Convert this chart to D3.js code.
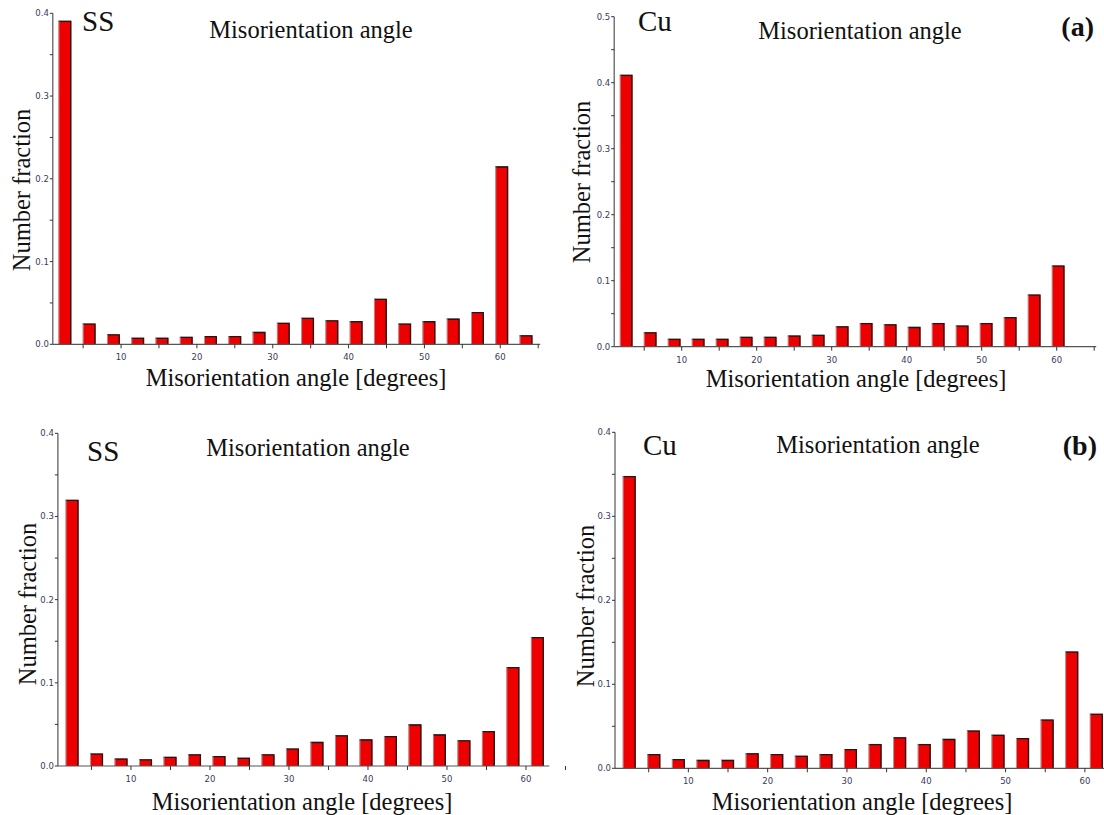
<!DOCTYPE html>
<html><head><meta charset="utf-8">
<script src="https://cdn.jsdelivr.net/npm/d3@7"></script>
<style>body{margin:0;background:#fff}svg{display:block}</style>
</head><body>
<svg id="c" width="1104" height="815"></svg>
<script>
// ---- data ----
const binCentersA = [2.6, 5.8, 9.0, 12.2, 15.4, 18.6, 21.8, 25.0, 28.2, 31.4, 34.6, 37.8, 41.0, 44.2, 47.4, 50.6, 53.8, 57.0, 60.2, 63.4];
const binCentersB = [2.55, 5.65, 8.75, 11.85, 14.95, 18.05, 21.15, 24.25, 27.35, 30.45, 33.55, 36.65, 39.75, 42.85, 45.95, 49.05, 52.15, 55.25, 58.35, 61.45];
const ssA = [0.391, 0.025, 0.012, 0.008, 0.008, 0.009, 0.010, 0.010, 0.015, 0.026, 0.032, 0.029, 0.028, 0.055, 0.025, 0.028, 0.031, 0.039, 0.215, 0.011];
const cuA = [0.412, 0.022, 0.012, 0.012, 0.012, 0.015, 0.015, 0.017, 0.018, 0.031, 0.036, 0.034, 0.030, 0.036, 0.032, 0.036, 0.045, 0.079, 0.123, 0.0];
const ssB = [0.320, 0.015, 0.009, 0.008, 0.011, 0.014, 0.012, 0.010, 0.014, 0.021, 0.029, 0.037, 0.032, 0.036, 0.050, 0.038, 0.031, 0.042, 0.119, 0.155];
const cuB = [0.348, 0.017, 0.011, 0.010, 0.010, 0.018, 0.017, 0.015, 0.017, 0.023, 0.029, 0.037, 0.029, 0.035, 0.045, 0.040, 0.036, 0.058, 0.139, 0.065];
const xTickLabels = [10, 20, 30, 40, 50, 60];
const xMinorTicks = [5, 10, 15, 20, 25, 30, 35, 40, 45, 50, 55, 60, 65];
const yTicks04 = [0.0, 0.1, 0.2, 0.3, 0.4];
const yTicks05 = [0.0, 0.1, 0.2, 0.3, 0.4, 0.5];
const materials = ["SS", "Cu", "SS", "Cu"];
const panelLetters = ["", "(a)", "", "(b)"];
const titleText = "Misorientation angle";
const xLabelText = "Misorientation angle [degrees]";
const yLabelText = "Number fraction";

// ---- layout ----
const panels = [
  {vals: ssA, centers: binCentersA, binW: 3.2, xDom: [1, 65], xPx: [52.8, 538.2], yMax: 0.4, yTicks: yTicks04, yPx: [344.3, 13.3],
   mat: materials[0], matX: 82, matY: 31, letter: panelLetters[0], titleX: 311, titleY: 38, ylabX: 30, ylabY: 190, xlabX: 296, xlabY: 386},
  {vals: cuA, centers: binCentersA, binW: 3.2, xDom: [1, 65], xPx: [614.2, 1094.2], yMax: 0.5, yTicks: yTicks05, yPx: [346.7, 16.7],
   mat: materials[1], matX: 638, matY: 31, letter: panelLetters[1], letX: 1094, letY: 36, titleX: 860, titleY: 39, ylabX: 590, ylabY: 182, xlabX: 856, xlabY: 387},
  {vals: ssB, centers: binCentersB, binW: 3.1, xDom: [0.75, 62.7], xPx: [57.9, 547.3], yMax: 0.4, yTicks: yTicks04, yPx: [766, 433.3],
   mat: materials[2], matX: 87, matY: 461, letter: panelLetters[2], titleX: 308, titleY: 456, ylabX: 36, ylabY: 604, xlabX: 302, xlabY: 810},
  {vals: cuB, centers: binCentersB, binW: 3.1, xDom: [0.75, 62.7], xPx: [615, 1106.3], yMax: 0.4, yTicks: yTicks04, yPx: [768.3, 432.3],
   mat: materials[3], matX: 643, matY: 455, letter: panelLetters[3], letX: 1097, letY: 455, titleX: 878, titleY: 453, ylabX: 594, ylabY: 606, xlabX: 862, xlabY: 810}
];

const svg = d3.select("#c");
svg.append("rect").attr("width", 1104).attr("height", 815).attr("fill", "#fff");
const serif = "'Liberation Serif', 'Times New Roman', serif";
const tickFont = "'DejaVu Sans', sans-serif";

panels.forEach(p => {
  const x = d3.scaleLinear().domain(p.xDom).range(p.xPx);
  const y = d3.scaleLinear().domain([0, p.yMax]).range(p.yPx);
  const g = svg.append("g");

  // bars
  const bw = p.binW * 0.53;
  const bars = g.append("g");
  p.vals.forEach((v, i) => {
    if (v <= 0) return;
    const c = p.centers[i];
    const x0 = x(c - bw / 2), x1 = x(c + bw / 2);
    bars.append("rect").attr("x", x0).attr("y", y(v)).attr("width", x1 - x0).attr("height", y(0) - y(v))
      .attr("fill", "#ee0000");
    bars.append("path").attr("d", `M${x0},${y(v)+0.6}H${x1-0.7}V${y(0)}`)
      .attr("fill", "none").attr("stroke", "#1a1a1a").attr("stroke-width", 1.3);
    bars.append("line").attr("x1", x0 + 0.4).attr("x2", x0 + 0.4).attr("y1", y(v)).attr("y2", y(0))
      .attr("stroke", "#b0b0b0").attr("stroke-width", 0.8);
  });

  // x axis
  const xAx = g.append("g").attr("transform", `translate(0,${y(0)})`);
  xAx.append("line").attr("x1", x(p.xDom[0])).attr("x2", x(p.xDom[1]) + 2).attr("y1", 0).attr("y2", 0)
    .attr("stroke", "#555").attr("stroke-width", 1.2);
  xMinorTicks.filter(t => t <= p.xDom[1] + 2.5).forEach(t => {
    xAx.append("line").attr("x1", x(t)).attr("x2", x(t)).attr("y1", 0).attr("y2", 4)
      .attr("stroke", "#333").attr("stroke-width", 1);
  });
  xTickLabels.forEach(t => {
    xAx.append("text").attr("x", x(t)).attr("y", 16).attr("text-anchor", "middle")
      .attr("font-family", tickFont).attr("font-size", 8.5).attr("fill", "#3a3a5a").text(t);
  });

  // y axis
  const yAx = g.append("g").attr("transform", `translate(${x(p.xDom[0])},0)`);
  yAx.append("line").attr("x1", 0).attr("x2", 0).attr("y1", y(p.yMax)).attr("y2", y(0))
    .attr("stroke", "#555").attr("stroke-width", 1.2);
  d3.range(0, Math.round(p.yMax / 0.05) + 1).forEach(k => {
    const v = k * 0.05;
    yAx.append("line").attr("x1", -3).attr("x2", 0).attr("y1", y(v)).attr("y2", y(v))
      .attr("stroke", "#333").attr("stroke-width", 1);
  });
  p.yTicks.forEach(t => {
    yAx.append("text").attr("x", -4).attr("y", y(t)).attr("dy", "0.35em").attr("text-anchor", "end")
      .attr("font-family", tickFont).attr("font-size", 8.5).attr("fill", "#3a3a5a").text(t.toFixed(1));
  });

  // texts
  g.append("text").attr("x", p.matX).attr("y", p.matY).attr("font-family", serif).attr("font-size", 29)
    .attr("fill", "#111").text(p.mat);
  g.append("text").attr("x", p.titleX).attr("y", p.titleY).attr("text-anchor", "middle").attr("font-family", serif)
    .attr("font-size", 24.5).attr("fill", "#111").text(titleText);
  g.append("text").attr("transform", `translate(${p.ylabX},${p.ylabY}) rotate(-90)`).attr("text-anchor", "middle")
    .attr("font-family", serif).attr("font-size", 24.5).attr("fill", "#111").text(yLabelText);
  g.append("text").attr("x", p.xlabX).attr("y", p.xlabY).attr("text-anchor", "middle").attr("font-family", serif)
    .attr("font-size", 24.5).attr("fill", "#111").text(xLabelText);
  if (p.letter) {
    g.append("text").attr("x", p.letX).attr("y", p.letY).attr("text-anchor", "end").attr("font-family", serif)
      .attr("font-weight", "bold").attr("font-size", 28).attr("fill", "#111").text(p.letter);
  }
});
</script>
</body></html>
